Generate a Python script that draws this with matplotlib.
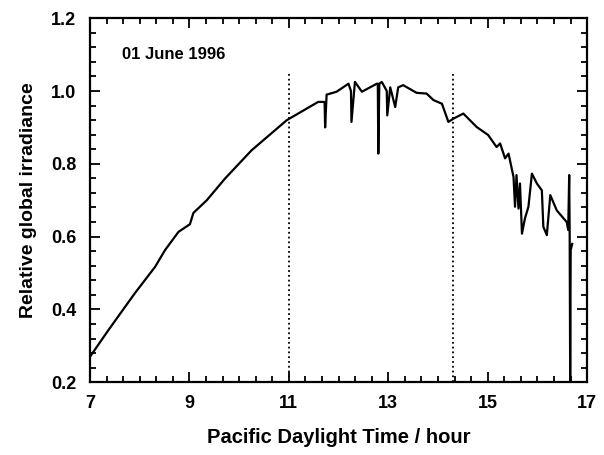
import matplotlib
matplotlib.use('agg')
import matplotlib.pyplot as plt
from matplotlib.ticker import MultipleLocator

# Irradiance trace (hour, relative irradiance)
hours = [7.00, 7.37, 7.90, 8.31, 8.51, 8.78, 9.01, 9.08, 9.35, 9.72, 10.25, 10.96,
         11.59, 11.72, 11.73, 11.76, 11.96, 12.20, 12.25, 12.26, 12.33, 12.47, 12.77,
         12.79, 12.80, 12.82, 12.87, 12.97, 12.98, 13.04, 13.14, 13.20, 13.30, 13.57,
         13.77, 13.91, 14.08, 14.21, 14.31, 14.51, 14.78, 15.01, 15.18, 15.25, 15.35,
         15.42, 15.52, 15.55, 15.58, 15.62, 15.65, 15.69, 15.75, 15.82, 15.89, 15.99,
         16.09, 16.12, 16.19, 16.26, 16.39, 16.59, 16.62, 16.64, 16.65, 16.66, 16.67,
         16.70]
irradiance = [0.27, 0.343, 0.444, 0.517, 0.563, 0.613, 0.634, 0.665, 0.700, 0.760, 0.837, 0.920,
              0.970, 0.970, 0.900, 0.990, 0.998, 1.020, 1.000, 0.915, 1.025, 0.998, 1.020,
              1.020, 0.828, 1.020, 1.025, 1.000, 0.933, 1.010, 0.956, 1.010, 1.016, 0.995,
              0.993, 0.975, 0.965, 0.915, 0.924, 0.938, 0.901, 0.879, 0.846, 0.856, 0.815,
              0.828, 0.764, 0.682, 0.769, 0.677, 0.746, 0.608, 0.650, 0.682, 0.773, 0.746,
              0.727, 0.627, 0.604, 0.714, 0.672, 0.640, 0.618, 0.769, 0.600, 0.205, 0.563,
              0.580]

marker_hours = [11.0, 14.3]
marker_top = 1.05

plt.rcParams['font.family'] = ['Liberation Sans', 'DejaVu Sans']

fig = plt.figure(figsize=(6.04, 4.55), dpi=100)
ax = fig.add_axes([0.149, 0.160, 0.823, 0.800])

ax.plot(hours, irradiance, color='black', lw=1.6)
for h in marker_hours:
    ax.plot([h, h], [0.2, marker_top], color='black', lw=1.3, linestyle=':')

ax.text(7.65, 1.10, '01 June 1996', fontsize=12, fontweight='bold', va='center')

ax.set_xlim(7, 17)
ax.set_ylim(0.2, 1.2)
ax.xaxis.set_major_locator(MultipleLocator(2, offset=1))
ax.xaxis.set_minor_locator(MultipleLocator(1 / 3))
ax.yaxis.set_major_locator(MultipleLocator(0.2))
ax.yaxis.set_minor_locator(MultipleLocator(0.04))
ax.yaxis.set_major_formatter(plt.FormatStrFormatter('%.1f'))

ax.tick_params(which='both', direction='in', top=True, right=True, width=1.3)
ax.tick_params(which='major', length=7, labelsize=13)
ax.tick_params(axis='x', which='major', pad=9)
ax.tick_params(axis='y', which='major', pad=10)
ax.tick_params(which='minor', length=4)
for lbl in ax.get_xticklabels() + ax.get_yticklabels():
    lbl.set_fontweight('bold')
for s in ax.spines.values():
    s.set_linewidth(1.6)

ax.set_xlabel('Pacific Daylight Time / hour', fontsize=14.5, fontweight='bold', labelpad=12)
ax.set_ylabel('Relative global irradiance', fontsize=14, fontweight='bold', labelpad=10)

fig.savefig('out.png', dpi=100)
